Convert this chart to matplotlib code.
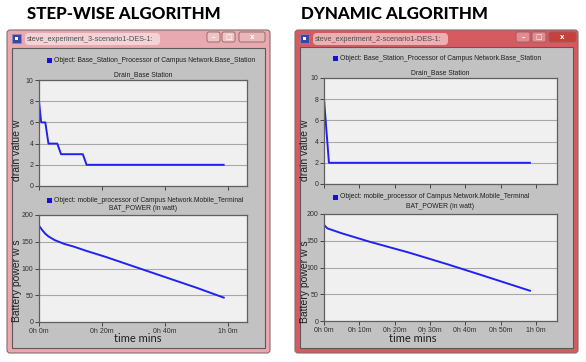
#!/usr/bin/env python3
"""
Step-wise vs dynamic algorithm: OPNET style result windows side by side
"""

import matplotlib
matplotlib.use('Agg')
import matplotlib.pyplot as plt
from matplotlib.patches import Rectangle, FancyBboxPatch

# ---- data (time in minutes) ----
step_drain_t = [0, 0.7, 2.0, 3.0, 5.8, 7.0, 13.9, 15.1, 58.9]
step_drain_v = [8, 6, 6, 4, 4, 3, 3, 2, 2]

step_bat_t = [0, 1, 2, 3, 5, 8, 11, 15, 21, 27, 40, 50, 58.9]
step_bat_v = [180, 172, 165, 160, 153, 146, 141, 133, 122, 110, 84, 64, 45]

dyn_drain_t = [0, 1.4, 58.6]
dyn_drain_v = [8, 2, 2]

dyn_bat_t = [0, 0.5, 1, 5, 13, 24, 35, 45, 58.6]
dyn_bat_v = [180, 176, 173, 164, 148, 128, 106, 85, 56]

step_xticks = [0, 20, 40, 60]
step_xlabels = ['0h 0m', '0h 20m', '0h 40m', '1h 0m']
dyn_xticks = [0, 10, 20, 30, 40, 50, 60]
dyn_xlabels = ['0h 0m', '0h 10m', '0h 20m', '0h 30m', '0h 40m', '0h 50m', '1h 0m']

W, H = 586, 362
LINE = '#2222f0'
SMALL = ['Liberation Sans', 'DejaVu Sans']

fig = plt.figure(figsize=(W / 100, H / 100), dpi=100)
fig.patch.set_facecolor('white')

# background axes in pixel units for window chrome
bg = fig.add_axes([0, 0, 1, 1], zorder=-1)
bg.set_xlim(0, W)
bg.set_ylim(H, 0)
bg.axis('off')


def rect_px(x0, y0, x1, y1):
    return [x0 / W, 1 - y1 / H, (x1 - x0) / W, (y1 - y0) / H]


def ftext(x, y, s, **kw):
    kw.setdefault('zorder', 10)
    fig.text(x / W, 1 - y / H, s, **kw)


def window(x0, y0, x1, y1, frame, title_col, btn_col, close_col, title, panel_top, buttons):
    bg.add_patch(FancyBboxPatch((x0, y0), x1 - x0, y1 - y0,
                                boxstyle='round,pad=0,rounding_size=3',
                                fc=frame, ec='#8a6a6a', lw=0.8))
    # title glow
    bg.add_patch(FancyBboxPatch((x0 + 18, y0 + 3), 135, 12,
                                boxstyle='round,pad=0,rounding_size=4',
                                fc=title_col, ec='none'))
    # icon
    bg.add_patch(Rectangle((x0 + 5, y0 + 4), 9, 9, fc='#3848a8', ec='#8090c0', lw=0.5))
    bg.add_patch(Rectangle((x0 + 8, y0 + 7), 3, 3, fc='white', ec='none'))
    ftext(x0 + 20, y0 + 9.5, title, fontsize=5.3, color='#505050',
          va='center', ha='left', family=SMALL)
    # caption buttons
    for i, (bx0, bx1) in enumerate(buttons):
        fc = close_col if i == 2 else btn_col
        bg.add_patch(FancyBboxPatch((bx0, y0 + 2), bx1 - bx0, 10,
                                    boxstyle='round,pad=0,rounding_size=2',
                                    fc=fc, ec='#906060', lw=0.6))
    sym = ['\u2013', '\u25a1', 'x']
    for (bx0, bx1), s in zip(buttons, sym):
        ftext((bx0 + bx1) / 2, y0 + 7, s, fontsize=5, color='white',
              ha='center', va='center', family=['DejaVu Sans'], fontweight='bold')
    # gray client panel
    bg.add_patch(Rectangle((x0 + 5, panel_top), (x1 - x0) - 10, (y1 - 5) - panel_top,
                           fc='#c2c2c2', ec='#5a5a5a', lw=0.8))


window(7, 30, 270, 353, '#e8aab0', '#f3d3d6', '#eec4c7', '#e9b6ba',
       'steve_experiment_3-scenario1-DES-1:', 48,
       [(207, 220), (222, 235), (239, 265)])
window(295, 30, 578, 353, '#d65a60', '#ecb0b2', '#e58a8e', '#c8403c',
       'steve_experiment_2-scenario1-DES-1:', 47,
       [(516, 530), (532, 546), (549, 576)])

# big headings
ftext(27, 14, 'STEP-WISE ALGORITHM', fontsize=12.2, fontweight='black',
      family=['Lato', 'DejaVu Sans'], va='center', ha='left', color='black')
ftext(301, 14, 'DYNAMIC ALGORITHM', fontsize=12.2, fontweight='black',
      family=['Lato', 'DejaVu Sans'], va='center', ha='left', color='black')


def panel(box, t, v, ylim, yticks, xticks, xlabels, show_x):
    ax = fig.add_axes(rect_px(*box))
    ax.set_facecolor('#f0f0f0')
    ax.plot(t, v, color=LINE, lw=1.4, solid_capstyle='butt')
    ax.set_xlim(0, 66)
    ax.set_ylim(*ylim)
    ax.set_yticks(yticks)
    ax.set_xticks(xticks)
    if show_x:
        ax.set_xticklabels(xlabels)
    else:
        ax.set_xticklabels([])
        ax.tick_params(axis='x', length=0)
    ax.grid(axis='y', color='#a8a8a8', lw=0.8)
    ax.set_axisbelow(True)
    for sp in ax.spines.values():
        sp.set_color('#606060')
        sp.set_linewidth(0.9)
    ax.tick_params(labelsize=5, colors='#303030', length=3, width=0.6, pad=1)
    for lab in ax.get_xticklabels() + ax.get_yticklabels():
        lab.set_family(SMALL)
    return ax


# left window plots
panel((39, 80, 247, 186), step_drain_t, step_drain_v, (0, 10), range(0, 11, 2),
      step_xticks, step_xlabels, False)
panel((39, 215, 247, 322), step_bat_t, step_bat_v, (0, 200), range(0, 201, 50),
      step_xticks, step_xlabels, True)

# right window plots
panel((324, 78, 557, 184), dyn_drain_t, dyn_drain_v, (0, 10), range(0, 11, 2),
      dyn_xticks, dyn_xlabels, False)
panel((324, 214, 557, 321), dyn_bat_t, dyn_bat_v, (0, 200), range(0, 201, 50),
      dyn_xticks, dyn_xlabels, True)

# legends / captions
legend_top = 'Object: Base_Station_Processor of Campus Network.Base_Station'
legend_bot = 'Object: mobile_processor of Campus Network.Mobile_Terminal'
for sx, ly1, cy1, ly2, cy2, cx in [(47, 60, 75, 200, 209, 143),
                                   (333, 58, 73, 197, 207, 440)]:
    bg.add_patch(Rectangle((sx, ly1 - 2.5), 5, 5, fc='#1010e0', ec='none'))
    ftext(sx + 7, ly1, legend_top, fontsize=4.9, color='#202020',
          va='center', ha='left', family=SMALL)
    ftext(cx, cy1, 'Drain_Base Station', fontsize=4.9, color='#202020',
          va='center', ha='center', family=SMALL)
    bg.add_patch(Rectangle((sx, ly2 - 2.5), 5, 5, fc='#1010e0', ec='none'))
    ftext(sx + 7, ly2, legend_bot, fontsize=4.9, color='#202020',
          va='center', ha='left', family=SMALL)
    ftext(cx, cy2, 'BAT_POWER (in watt)', fontsize=4.9, color='#202020',
          va='center', ha='center', family=SMALL)

# axis titles
for x_lab, y_drain, y_bat, x_time in [(17, 150, 281, 138), (305, 150, 282, 413)]:
    ftext(x_lab, y_drain, 'drain value w', fontsize=7.5, rotation=90,
          va='center', ha='center', family=SMALL, color='#202020')
    ftext(x_lab, y_bat, 'Battery power w s', fontsize=7.5, rotation=90,
          va='center', ha='center', family=SMALL, color='#202020')
    ftext(x_time, 338, 'time mins', fontsize=8, va='center', ha='center',
          family=['Lato', 'DejaVu Sans'], color='#202020')

fig.savefig('out.png', dpi=100, facecolor='white')
